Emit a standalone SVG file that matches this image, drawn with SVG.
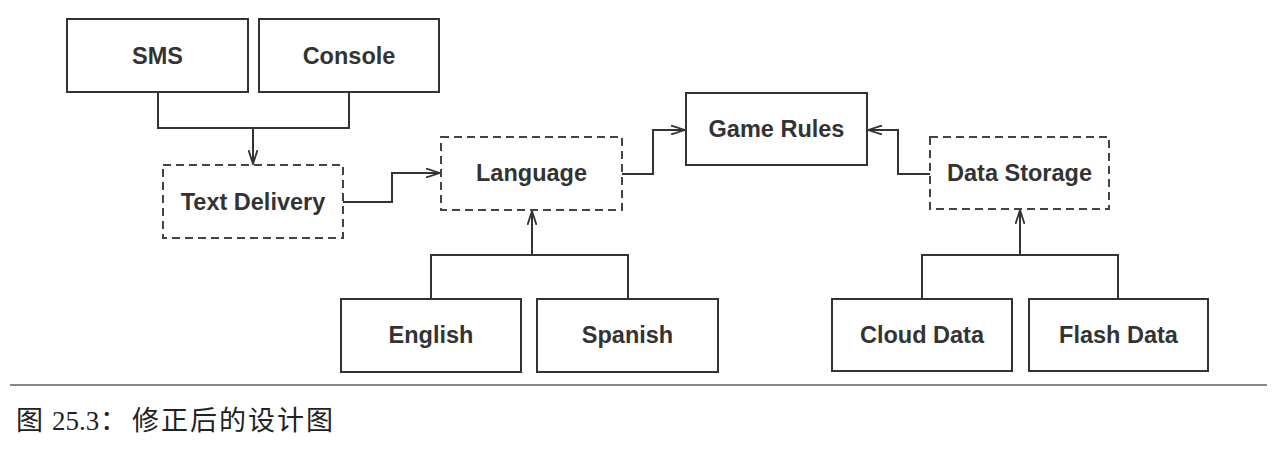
<svg xmlns="http://www.w3.org/2000/svg" width="1286" height="454" viewBox="0 0 1286 454">
<style>
.box{fill:#fff;stroke:#333;stroke-width:2}
.dash{fill:#fff;stroke:#444;stroke-width:2;stroke-dasharray:8 5}
.lbl{font-family:"Liberation Sans",Arial,sans-serif;font-weight:bold;font-size:23.5px;fill:#333;text-anchor:middle}
.conn{fill:none;stroke:#333;stroke-width:2}
.cap{font-family:"Liberation Serif","Noto Sans CJK SC",serif;font-size:27px;fill:#222}
</style>
<defs>
<marker id="arr" viewBox="0 0 15 10" refX="14" refY="5" markerWidth="15" markerHeight="10" markerUnits="userSpaceOnUse" orient="auto">
<path d="M0,0.5 L14,5 L0,9.5" fill="none" stroke="#333" stroke-width="1.8"/>
</marker>
</defs>
<rect width="1286" height="454" fill="#fff"/>
<g id="connectors">
<path class="conn" d="M158,92 V128 H349 V92"/>
<path class="conn" d="M253,128 V164" marker-end="url(#arr)"/>
<path class="conn" d="M343,202 H392 V173 H440" marker-end="url(#arr)"/>
<path class="conn" d="M622,174 H653 V130 H685" marker-end="url(#arr)"/>
<path class="conn" d="M930,174 H898 V130 H868" marker-end="url(#arr)"/>
<path class="conn" d="M431,299 V255 H628 V299"/>
<path class="conn" d="M532,255 V211" marker-end="url(#arr)"/>
<path class="conn" d="M922,299 V255 H1118 V299"/>
<path class="conn" d="M1020,255 V210" marker-end="url(#arr)"/>
</g>
<g id="sms"><rect class="box" x="67" y="19" width="181" height="73"/><text class="lbl" x="157.5" y="63.5">SMS</text></g>
<g id="console"><rect class="box" x="259" y="19" width="180" height="73"/><text class="lbl" x="349" y="63.5">Console</text></g>
<g id="text-delivery"><rect class="dash" x="163" y="165" width="180" height="73"/><text class="lbl" x="253" y="209.5">Text Delivery</text></g>
<g id="language"><rect class="dash" x="441" y="137" width="181" height="73"/><text class="lbl" x="531.5" y="181">Language</text></g>
<g id="game-rules"><rect class="box" x="686" y="93" width="181" height="72"/><text class="lbl" x="776.5" y="136.5">Game Rules</text></g>
<g id="data-storage"><rect class="dash" x="930" y="137" width="179" height="72"/><text class="lbl" x="1019.5" y="180.5">Data Storage</text></g>
<g id="english"><rect class="box" x="341" y="299" width="180" height="73"/><text class="lbl" x="431" y="342.5">English</text></g>
<g id="spanish"><rect class="box" x="537" y="299" width="181" height="73"/><text class="lbl" x="627.5" y="342.5">Spanish</text></g>
<g id="cloud-data"><rect class="box" x="832" y="299" width="180" height="72"/><text class="lbl" x="922" y="342.5">Cloud Data</text></g>
<g id="flash-data"><rect class="box" x="1029" y="299" width="179" height="72"/><text class="lbl" x="1118.5" y="342.5">Flash Data</text></g>
<line x1="10" y1="385" x2="1267" y2="385" stroke="#888" stroke-width="2"/>
<text class="cap" y="430"><tspan x="16">图</tspan><tspan x="52">25.3</tspan><tspan x="100">：</tspan><tspan x="132" letter-spacing="2">修正后的设计图</tspan></text>
</svg>
